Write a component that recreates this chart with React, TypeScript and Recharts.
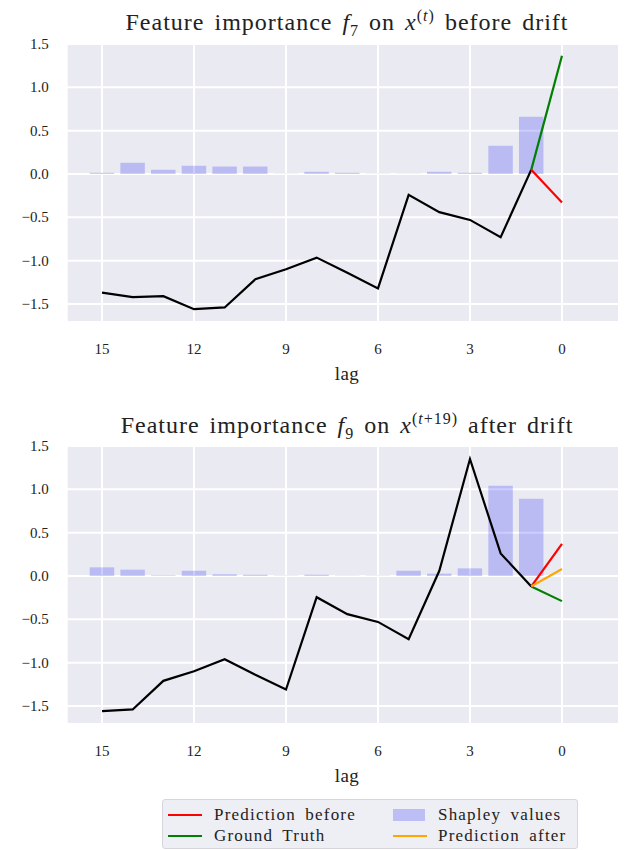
import { ComposedChart, Bar, Line, XAxis, YAxis, CartesianGrid } from 'recharts'

const lags = [15, 14, 13, 12, 11, 10, 9, 8, 7, 6, 5, 4, 3, 2, 1, 0]
const yTicks = [-1.5, -1.0, -0.5, 0.0, 0.5, 1.0, 1.5]

// before drift (f7 on x(t))
const seriesBefore = [-1.37, -1.42, -1.41, -1.56, -1.54, -1.215, -1.1, -0.965, -1.14, -1.32, -0.24, -0.44, -0.53, -0.73, 0.05]
const shapBefore = [0.015, 0.13, 0.05, 0.096, 0.085, 0.085, 0.004, 0.027, 0.015, 0.004, 0.004, 0.027, 0.015, 0.327, 0.66]
const truthBefore = 1.365
const predBeforeBefore = -0.33

// after drift (f9 on x(t+19))
const seriesAfter = [-1.56, -1.54, -1.21, -1.1, -0.96, -1.14, -1.31, -0.245, -0.44, -0.53, -0.73, 0.06, 1.35, 0.26, -0.12]
const shapAfter = [0.1, 0.073, 0.008, 0.061, 0.02, 0.015, 0.004, 0.015, 0.004, 0.004, 0.061, 0.027, 0.088, 1.04, 0.89]
const truthAfter = -0.29
const predBeforeAfter = 0.37
const predAfterAfter = 0.08

const FONT = "'Liberation Serif', 'DejaVu Serif', serif"
const BG = '#EAEAF2'

function buildRows(series: number[], shap: number[], truth: number, before: number, after?: number) {
  const last = series[series.length - 1]
  return lags.map((lag, i) => {
    const isLast = i === series.length - 1
    const isZero = lag === 0
    return {
      lag,
      shap: isZero ? null : shap[i],
      series: isZero ? null : series[i],
      truth: isLast ? last : isZero ? truth : null,
      before: isLast ? last : isZero ? before : null,
      after: after === undefined ? null : isLast ? last : isZero ? after : null,
    }
  })
}

const topRows = buildRows(seriesBefore, shapBefore, truthBefore, predBeforeBefore)
const bottomRows = buildRows(seriesAfter, shapAfter, truthAfter, predBeforeAfter, predAfterAfter)

const fmt = (v: number) => v.toFixed(1).replace('-', '\u2212')

function XTick({ x, y, payload }: any) {
  return (
    <text x={x} y={y + 27} textAnchor="middle" dominantBaseline="central" fontSize={15} fontFamily={FONT} fill="#222">
      {payload.value}
    </text>
  )
}

function YTick({ x, y, payload }: any) {
  return (
    <text x={x - 18} y={y} textAnchor="end" dominantBaseline="central" fontSize={15} fontFamily={FONT} fill="#222">
      {fmt(payload.value)}
    </text>
  )
}

function Panel({ rows, title, top, titleY, showAfter }: any) {
  return (
    <div style={{ position: 'absolute', left: 0, top, width: 618, height: 400 }}>
      <div
        style={{
          position: 'absolute',
          left: 0,
          width: 678,
          top: titleY,
          textAlign: 'center',
          fontFamily: FONT,
          fontSize: 24,
          letterSpacing: 1,
          wordSpacing: 3,
          lineHeight: '24px',
          color: '#222',
          whiteSpace: 'nowrap',
        }}
      >
        {title}
      </div>
      <div style={{ position: 'absolute', top: 0, left: 0 }}>
        <ComposedChart
          width={618}
          height={380}
          data={rows}
          margin={{ top: 36, right: 0, left: 8.7, bottom: 36 }}
        >
          <CartesianGrid fill={BG} stroke="#ffffff" strokeWidth={2} fillOpacity={1} />
          <XAxis
            dataKey="lag"
            type="category"
            interval={2}
            padding={{ left: 20, right: 48.7 }}
            height={30}
            axisLine={false}
            tickLine={false}
            tickSize={0}
            tickMargin={0}
            tick={<XTick />}
          />
          <YAxis
            type="number"
            domain={[-1.708, 1.5]}
            allowDataOverflow
            ticks={yTicks}
            width={50}
            axisLine={false}
            tickLine={false}
            tickSize={0}
            tickMargin={0}
            tick={<YTick />}
          />
          <Bar dataKey="shap" fill="#0000ff" fillOpacity={0.2} barSize={24.5} isAnimationActive={false} />
          <Line dataKey="series" stroke="#000000" strokeWidth={2.2} dot={false} isAnimationActive={false} />
          <Line dataKey="truth" stroke="#008000" strokeWidth={2.2} dot={false} isAnimationActive={false} />
          <Line dataKey="before" stroke="#ff0000" strokeWidth={2.2} dot={false} isAnimationActive={false} />
          {showAfter && (
            <Line dataKey="after" stroke="#ffa500" strokeWidth={2.2} dot={false} isAnimationActive={false} />
          )}
        </ComposedChart>
      </div>
      <div
        style={{
          position: 'absolute',
          left: 0,
          width: 678,
          top: 356,
          textAlign: 'center',
          fontFamily: FONT,
          fontSize: 19,
          letterSpacing: 0.5,
          lineHeight: '20px',
          color: '#222',
        }}
      >
        lag
      </div>
    </div>
  )
}

const legendItems = [
  { label: 'Prediction before', color: '#ff0000', kind: 'line', col: 0, row: 0 },
  { label: 'Ground Truth', color: '#008000', kind: 'line', col: 0, row: 1 },
  { label: 'Shapley values', color: '#0000ff', kind: 'bar', col: 1, row: 0 },
  { label: 'Prediction after', color: '#ffa500', kind: 'line', col: 1, row: 1 },
]

function Legend() {
  return (
    <div
      style={{
        position: 'absolute',
        left: 154,
        top: 791,
        width: 416,
        height: 50,
        background: 'rgba(234,234,242,0.8)',
        border: '1px solid #d6d6de',
        borderRadius: 3,
        boxSizing: 'border-box',
        fontFamily: FONT,
        fontSize: 17,
        letterSpacing: 1.2,
        wordSpacing: 4,
        color: '#222',
      }}
    >
      {legendItems.map((it) => {
        const cy = it.row === 0 ? 15 : 36
        const sx = it.col === 0 ? 5 : 230
        const tx = it.col === 0 ? 51 : 275
        return (
          <div key={it.label}>
            {it.kind === 'line' ? (
              <div style={{ position: 'absolute', left: sx, top: cy - 1, width: 34, height: 2, background: it.color }} />
            ) : (
              <div
                style={{
                  position: 'absolute',
                  left: sx,
                  top: cy - 6,
                  width: 32,
                  height: 12,
                  background: it.color,
                  opacity: 0.2,
                }}
              />
            )}
            <div style={{ position: 'absolute', left: tx, top: cy - 10, lineHeight: '20px', whiteSpace: 'nowrap' }}>
              {it.label}
            </div>
          </div>
        )
      })}
    </div>
  )
}

export default function App() {
  return (
    <div style={{ position: 'relative', width: 618, height: 842, overflow: 'hidden', background: '#fff' }}>
      <Panel
        rows={topRows}
        top={0}
        titleY={-4}
        title={
          <span>
            Feature importance <i>f</i>
            <sub style={{ fontSize: 16 }}>7</sub> on <i>x</i>
            <sup style={{ fontSize: 16 }}>
              (<i>t</i>)
            </sup>{' '}
            before drift
          </span>
        }
      />
      <Panel
        rows={bottomRows}
        top={402}
        titleY={-3}
        showAfter
        title={
          <span>
            Feature importance <i>f</i>
            <sub style={{ fontSize: 16 }}>9</sub> on <i>x</i>
            <sup style={{ fontSize: 16 }}>
              (<i>t</i>+19)
            </sup>{' '}
            after drift
          </span>
        }
      />
      <Legend />
    </div>
  )
}
